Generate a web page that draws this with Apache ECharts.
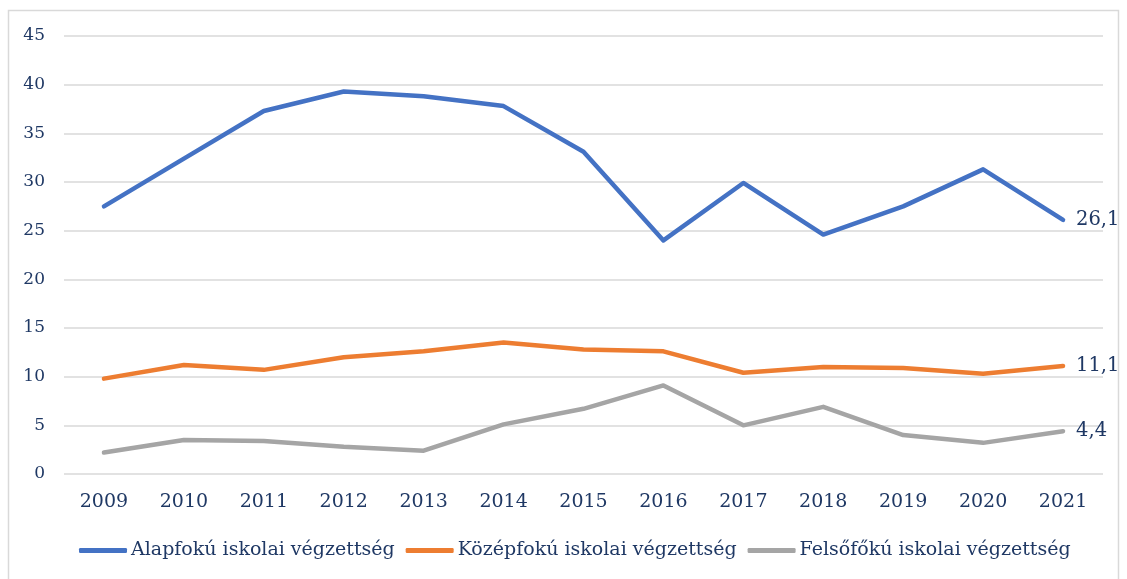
<!DOCTYPE html>
<html>
<head>
<meta charset="utf-8">
<script src="https://cdn.jsdelivr.net/npm/echarts@6/dist/echarts.min.js"></script>
<style>
  html, body { margin: 0; padding: 0; background: #fff; }
  #chart { width: 1127px; height: 579px; }
</style>
</head>
<body>
<div id="chart"></div>
<script>
const years = ["2009", "2010", "2011", "2012", "2013", "2014", "2015", "2016", "2017", "2018", "2019", "2020", "2021"];
const alapfoku = [27.5, 32.4, 37.3, 39.3, 38.8, 37.8, 33.1, 24.0, 29.9, 24.6, 27.5, 31.3, 26.1];
const kozepfoku = [9.8, 11.2, 10.7, 12.0, 12.6, 13.5, 12.8, 12.6, 10.4, 11.0, 10.9, 10.3, 11.1];
const felsofoku = [2.2, 3.5, 3.4, 2.8, 2.4, 5.1, 6.7, 9.1, 5.0, 6.9, 4.0, 3.2, 4.4];
const seriesNames = ["Alapfokú iskolai végzettség", "Középfokú iskolai végzettség", "Felsőfőkú iskolai végzettség"];
const colors = ["#4472C4", "#ED7D31", "#A5A5A5"];

const textColor = "#1F3864";
const font = "DejaVu Serif";

function makeSeries(name, data, color) {
  return {
    name: name,
    type: "line",
    data: data,
    symbol: "none",
    color: color,
    lineStyle: { width: 4.5, color: color, cap: "round", join: "round" },
    // value label at the end of the line, decimal comma
    endLabel: {
      show: true,
      distance: 13,
      formatter: p => p.value.toFixed(1).replace(".", ","),
      color: textColor,
      fontFamily: font,
      fontSize: 19.5
    },
    animation: false
  };
}

const chart = echarts.init(document.getElementById("chart"));
chart.setOption({
  backgroundColor: "#fff",
  animation: false,
  graphic: [{
    type: "rect",
    shape: { x: 8.5, y: 10.5, width: 1110, height: 620 },
    style: { fill: "none", stroke: "#d9d9d9", lineWidth: 1.5 },
    silent: true
  }],
  grid: { left: 64, right: 24, top: 36, bottom: 105, containLabel: false },
  legend: {
    data: seriesNames.map(n => ({ name: n, icon: "roundRect" })),
    bottom: 14,
    left: 74,
    itemWidth: 48,
    itemHeight: 5,
    itemGap: 11,
    textStyle: { color: textColor, fontFamily: font, fontSize: 19, padding: [0, 0, 0, -1] }
  },
  xAxis: {
    type: "category",
    data: years,
    boundaryGap: true,
    axisLine: { show: false },
    axisTick: { show: false },
    axisLabel: { color: textColor, fontFamily: font, fontSize: 19, margin: 19 }
  },
  yAxis: {
    type: "value",
    min: 0,
    max: 45,
    interval: 5,
    axisLine: { show: false },
    axisTick: { show: false },
    axisLabel: { color: textColor, fontFamily: font, fontSize: 17, margin: 19 },
    splitLine: { lineStyle: { color: "#d9d9d9", width: 1.5 } }
  },
  series: [
    makeSeries(seriesNames[0], alapfoku, colors[0]),
    makeSeries(seriesNames[1], kozepfoku, colors[1]),
    makeSeries(seriesNames[2], felsofoku, colors[2])
  ]
});
</script>
</body>
</html>
